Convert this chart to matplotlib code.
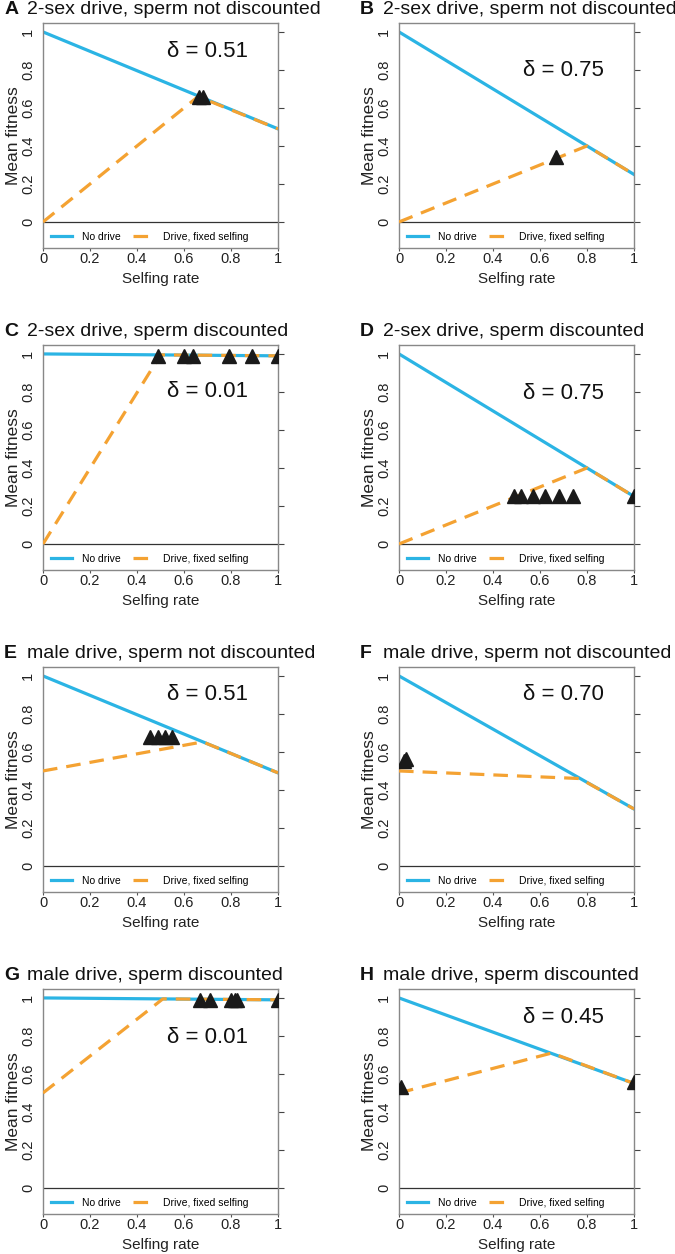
import matplotlib
matplotlib.use('Agg')
import matplotlib.pyplot as plt

plt.rcParams['font.family'] = ['Liberation Sans', 'DejaVu Sans']
plt.rcParams['lines.scale_dashes'] = False

# panel labels and titles
panel_letters = ['A', 'B', 'C', 'D', 'E', 'F', 'G', 'H']
panel_titles = ['2-sex drive, sperm not discounted', '2-sex drive, sperm not discounted',
                '2-sex drive, sperm discounted', '2-sex drive, sperm discounted',
                'male drive, sperm not discounted', 'male drive, sperm not discounted',
                'male drive, sperm discounted', 'male drive, sperm discounted']
deltas = [0.51, 0.75, 0.01, 0.75, 0.51, 0.70, 0.01, 0.45]

# no drive line (selfing rate 0 -> 1)
no_drive_x = [0, 1]
no_drive_y = [[1.0, 0.49], [1.0, 0.25], [1.0, 0.99], [1.0, 0.25],
              [1.0, 0.49], [1.0, 0.30], [1.0, 0.99], [1.0, 0.55]]

# drive, fixed selfing (start, kink, end)
drive_x = [[0, 0.66, 1], [0, 0.80, 1], [0, 0.50, 1], [0, 0.80, 1],
           [0, 0.68, 1], [0, 0.77, 1], [0, 0.51, 1], [0, 0.65, 1]]
drive_y = [[0.0, 0.66, 0.49], [0.0, 0.40, 0.25], [0.0, 0.995, 0.99], [0.0, 0.40, 0.25],
           [0.5, 0.653, 0.49], [0.5, 0.46, 0.30], [0.5, 0.995, 0.99], [0.5, 0.71, 0.55]]

# simulated outcomes (triangles)
tri_x = [[0.665, 0.68], [0.67], [0.49, 0.60, 0.64, 0.79, 0.89, 1.0],
         [0.49, 0.52, 0.57, 0.62, 0.68, 0.74, 1.0], [0.455, 0.49, 0.52, 0.55],
         [0.02, 0.03], [0.67, 0.71, 0.80, 0.815, 0.825, 1.0], [0.01, 1.0]]
tri_y = [[0.66, 0.66], [0.34], [0.99, 0.99, 0.99, 0.99, 0.99, 0.99],
         [0.255, 0.255, 0.255, 0.255, 0.255, 0.255, 0.255], [0.68, 0.68, 0.68, 0.68],
         [0.55, 0.565], [0.99, 0.99, 0.99, 0.99, 0.99, 0.99], [0.53, 0.555]]

# y position of the delta label
delta_label_y = [0.895, 0.795, 0.80, 0.79, 0.90, 0.90, 0.79, 0.895]

yticks = [0, 0.2, 0.4, 0.6, 0.8, 1]
xticks = [0, 0.2, 0.4, 0.6, 0.8, 1]

blue = '#2BB4E4'
orange = '#F4A232'
W, H = 675, 1254


def draw_panel(ax, i):
    ax.plot(no_drive_x, no_drive_y[i], color=blue, lw=2.3, label='No drive', zorder=2)
    ax.plot(drive_x[i], drive_y[i], color=orange, lw=2.3, dashes=(10.5, 6.5),
            label='Drive, fixed selfing', zorder=3)
    ax.plot(tri_x[i], tri_y[i], '^', color='#1a1a1a', ms=10.5, zorder=4)
    ax.axhline(0, color='#333333', lw=0.9, zorder=1)

    ax.set_xlim(0, 1)
    ax.set_ylim(-0.137, 1.047)
    ax.set_xticks(xticks)
    ax.set_xticklabels(['%g' % t for t in xticks])
    ax.set_yticks(yticks)
    ax.set_yticklabels(['%g' % t for t in yticks], rotation=90, va='center')
    ax.tick_params(axis='x', length=2, pad=1, labelsize=10.5, color='#555555', labelcolor='#222222')
    ax.tick_params(axis='y', left=False, right=True, length=4, pad=1.5, labelsize=10.5,
                   color='#444444', labelcolor='#222222')
    for s in ax.spines.values():
        s.set_color('#888888')
        s.set_linewidth(1.0)

    ax.set_xlabel('Selfing rate', fontsize=11, color='#222222', labelpad=4)
    ax.set_ylabel('Mean fitness', fontsize=12.5, color='#222222', labelpad=0)

    ax.text(0.70, delta_label_y[i], 'δ = %.2f' % deltas[i], transform=ax.get_yaxis_transform(),
            ha='center', va='center', fontsize=16, color='#111111')

    ax.text(-0.165, 1.04, panel_letters[i], transform=ax.transAxes, fontsize=14,
            fontweight='bold', ha='left', va='baseline', color='#111111')
    ax.text(-0.068, 1.04, panel_titles[i], transform=ax.transAxes, fontsize=14,
            ha='left', va='baseline', color='#111111')

    ax.legend(loc='center left', bbox_to_anchor=(0.035, 0.049), ncol=2, frameon=False,
              fontsize=7.5, borderpad=0, borderaxespad=0, handlelength=2.0,
              handletextpad=0.95, columnspacing=1.15)


fig = plt.figure(figsize=(W / 100, H / 100), dpi=100)
col_left = [43, 399]
row_top = [23, 345, 667, 989]
for i in range(8):
    r, c = divmod(i, 2)
    ax = fig.add_axes([col_left[c] / W, (H - row_top[r] - 225) / H, 235 / W, 225 / H])
    draw_panel(ax, i)

plt.savefig('out.png', dpi=100)
